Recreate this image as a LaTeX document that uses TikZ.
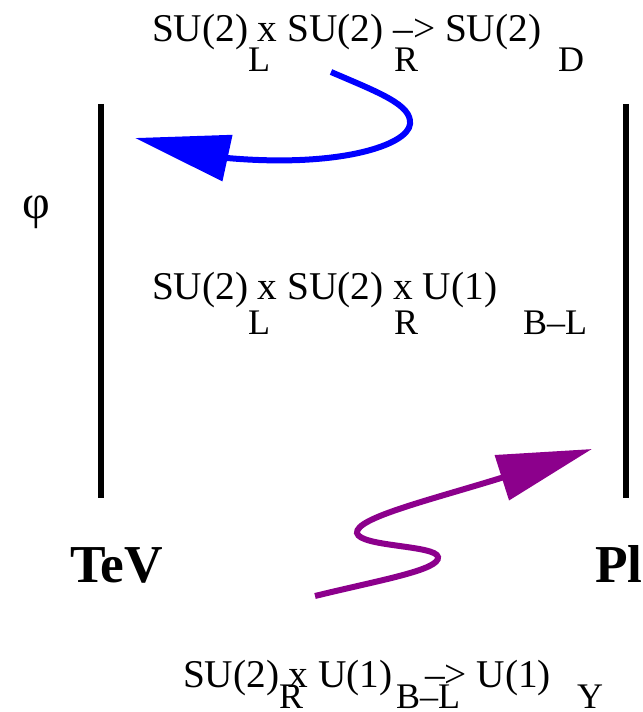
\documentclass[tikz,border=0pt]{standalone}
\usepackage{fontspec}
\setmainfont{Liberation Serif}
\usetikzlibrary{arrows.meta}

\definecolor{flowblue}{RGB}{0,0,255}
\definecolor{flowpurple}{RGB}{140,0,140}

\begin{document}
\begin{tikzpicture}[
  x=0.75pt, y=-0.75pt,
  every node/.style={inner sep=0pt, outer sep=0pt},
  grouptext/.style={anchor=base west, font=\fontsize{29.5}{34}\selectfont},
  subscr/.style={anchor=base, font=\fontsize{27}{30}\selectfont},
  energy/.style={anchor=base west, font=\fontsize{40}{44}\selectfont\bfseries},
  scalebar/.style={line width=4.9pt},
  flow/.style={-{Triangle[length=71pt, width=34.5pt]}, line width=4.5pt}
]
\useasboundingbox (0,0) rectangle (642,712);

% Scale bars
\coordinate (tevtop) at (101,104);
\coordinate (tevbot) at (101,498);
\coordinate (pltop) at (626,104);
\coordinate (plbot) at (626,498);
\draw[scalebar] (tevtop) -- (tevbot);
\draw[scalebar] (pltop) -- (plbot);

\node[energy] (tev) at (70,582) {TeV};
\node[energy] (pl) at (595,582) {Pl};
\node[font=\fontsize{36}{40}\selectfont] (phi) at (36,212) {φ};

% Top breaking
\node[grouptext] (topgroup) at (152,42) {SU(2) x SU(2) –> SU(2)};
\node[subscr] (topL) at (259,72) {L};
\node[subscr] (topR) at (406,72) {R};
\node[subscr] (topD) at (571,72) {D};

% Middle group
\node[grouptext] (midgroup) at (152,300) {SU(2) x SU(2) x U(1)};
\node[subscr] (midL) at (259,334) {L};
\node[subscr] (midR) at (406,334) {R};
\node[subscr] (midBL) at (555,334) {B–L};

% Bottom breaking
\node[grouptext] (botgroup) at (183,687) {SU(2) x U(1)};
\node[grouptext] (botY) at (425,687) {–> U(1)};
\node[subscr] (botR) at (291,708) {R};
\node[subscr] (botBL) at (428,708) {B–L};
\node[subscr] (botYs) at (590,708) {Y};

% Arrows
\coordinate (bluestart) at (331,72);
\coordinate (blueend) at (135,138);
\draw[flow, flowblue] (bluestart) .. controls (380,93) and (412,105) .. (410,124)
  .. controls (408,145) and (340,168) .. (227,158) -- (blueend);

\coordinate (purplestart) at (315,596);
\coordinate (purpleend) at (592,449);
\draw[flow, flowpurple] (purplestart) .. controls (380,580) and (440,570) .. (438,557)
  .. controls (436,545) and (360,547) .. (357,533)
  .. controls (355,518) and (430,500) .. (501,478) -- (purpleend);

\end{tikzpicture}
\end{document}
